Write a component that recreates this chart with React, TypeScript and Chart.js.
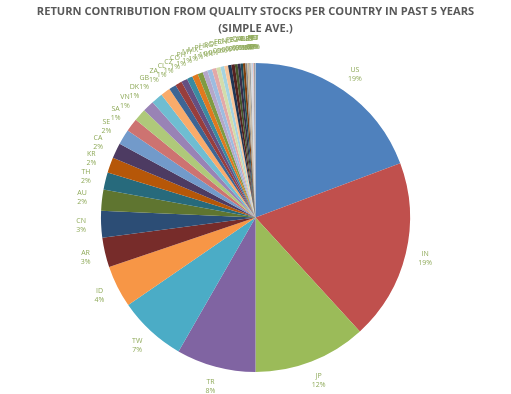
import React, { useEffect, useRef } from "react";
import { Chart, registerables } from "chart.js";

Chart.register(...registerables);

const titleLines = [
  "RETURN CONTRIBUTION FROM QUALITY STOCKS PER COUNTRY IN PAST 5 YEARS",
  "(SIMPLE AVE.)",
];

const countries = [
  "US", "IN", "JP", "TR", "TW", "ID", "AR", "CN", "AU", "TH", "KR", "CA", "SE",
  "SA", "VN", "DK", "GB", "ZA",
  "CL", "CZ", "CO", "PH", "MY", "MX", "PL", "HK", "SG", "DE", "FR", "CH", "NL",
  "PE", "EG", "QA", "AE", "IL", "NZ", "NO", "ES", "IT", "RU", "HU", "PT", "FI",
];

const values = [
  19.3, 18.9, 11.8, 8.3, 7.1, 4.4, 3.1, 2.8, 2.2, 1.8, 1.6, 1.6, 1.6,
  1.4, 1.3, 1.2, 1.2, 1.0,
  0.75, 0.7, 0.65, 0.6, 0.6, 0.55, 0.5, 0.5, 0.45, 0.45, 0.4, 0.4, 0.35,
  0.35, 0.3, 0.3, 0.25, 0.25, 0.2, 0.2, 0.15, 0.15, 0.1, 0.1, 0.08, 0.07,
];

const sliceColors = [
  "#4F81BD", "#C0504D", "#9BBB59", "#8064A2", "#4BACC6", "#F79646",
  "#772C2A", "#2C4D75", "#5F7530", "#276A7C", "#B65708", "#4D3B62",
  "#729ACA", "#CD7371", "#AFC97A", "#9983B5", "#6FBDD1", "#F9AB6B",
  "#3D6594", "#983E3C", "#654F82", "#3B8BA1", "#E0791F", "#7F9B43",
  "#B4A7C9", "#9DBCE0", "#E3A9A8", "#D3DDAB", "#A5D3E0", "#F9C69B",
  "#1F3654", "#542220", "#45552B", "#382B48", "#1E4B57", "#7E3F0C",
  "#8A8A8A", "#C9B89A", "#A0A0A0", "#D9D9D9", "#B9CDE5", "#E6B9B8",
  "#7F7F7F", "#BFBFBF",
];

const labelPlugin = {
  id: "sliceLabels",
  afterDatasetsDraw(chart: any) {
    const ctx = chart.ctx;
    const meta = chart.getDatasetMeta(0);
    const data = chart.data.datasets[0].data as number[];
    const total = data.reduce((a, b) => a + b, 0);
    ctx.save();
    ctx.font = "7px 'Open Sans'";
    ctx.fillStyle = "#8FAA5A";
    ctx.textAlign = "center";
    ctx.textBaseline = "middle";
    meta.data.forEach((arc: any, i: number) => {
      const p = arc.getProps(["x", "y", "startAngle", "endAngle", "outerRadius"], true);
      const mid = (p.startAngle + p.endAngle) / 2;
      const r = p.outerRadius + 20;
      const x = p.x + Math.cos(mid) * r;
      const y = p.y + Math.sin(mid) * r;
      const pct = Math.round((data[i] / total) * 100) + "%";
      ctx.fillText(chart.data.labels[i], x, y - 4.5);
      ctx.fillText(pct, x, y + 4.5);
    });
    ctx.restore();
  },
};

export default function App() {
  const ref = useRef<HTMLCanvasElement>(null);
  useEffect(() => {
    const chart = new Chart(ref.current!, {
      type: "pie",
      data: {
        labels: countries,
        datasets: [
          {
            data: values,
            backgroundColor: sliceColors,
            borderWidth: 0,
            hoverOffset: 0,
          },
        ],
      },
      options: {
        responsive: false,
        animation: false,
        devicePixelRatio: 1,
        events: [],
        layout: { padding: { top: 0, bottom: 22, left: 0, right: 0 } },
        plugins: {
          legend: { display: false },
          tooltip: { enabled: false },
          title: {
            display: true,
            text: titleLines,
            color: "#595959",
            font: { family: "'Open Sans'", size: 11.1, weight: "bold", lineHeight: 1.55 },
            padding: { top: 3, bottom: 25.5 },
          },
        },
      },
      plugins: [labelPlugin],
    });
    return () => chart.destroy();
  }, []);
  return (
    <div style={{ position: "fixed", left: 0, top: 0, width: 511, height: 394, background: "#fff" }}>
      <canvas ref={ref} width={511} height={394} />
    </div>
  );
}
